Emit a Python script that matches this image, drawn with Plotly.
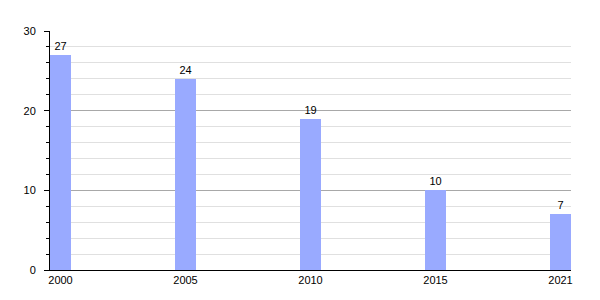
import plotly.graph_objects as go

years = ["2000", "2005", "2010", "2015", "2021"]
values = [27, 24, 19, 10, 7]
positions = list(range(len(years)))

bar_width = 0.168

fig = go.Figure(
    go.Bar(
        x=positions,
        y=values,
        width=bar_width,
        marker=dict(color="#99aaff", line=dict(width=0)),
        text=[str(v) for v in values],
        textposition="outside",
        textfont=dict(color="#000000", size=11, family="Liberation Sans, Arial, sans-serif"),
        cliponaxis=False,
    )
)

fig.update_layout(
    width=600,
    height=300,
    margin=dict(l=50, r=29, t=31, b=30),
    paper_bgcolor="white",
    plot_bgcolor="white",
    showlegend=False,
    font=dict(family="Liberation Sans, Arial, sans-serif", size=11, color="#000000"),
    bargap=0,
)

fig.update_xaxes(
    type="linear",
    range=[-bar_width / 2, positions[-1] + bar_width / 2],
    tickvals=positions,
    ticktext=years,
    showgrid=False,
    zeroline=False,
    showline=True,
    linecolor="#000000",
    linewidth=1,
    ticks="",
    ticklabelstandoff=0,
)

fig.update_yaxes(
    range=[0, 30],
    tickvals=[0, 10, 20, 30],
    showgrid=True,
    gridcolor="#a8a8a8",
    gridwidth=1,
    zeroline=False,
    showline=True,
    linecolor="#000000",
    linewidth=1,
    ticks="outside",
    ticklen=5,
    tickcolor="#000000",
    ticklabelstandoff=6,
    minor=dict(
        dtick=2,
        ticks="outside",
        ticklen=3,
        tickcolor="#000000",
        showgrid=True,
        gridcolor="#e0e0e0",
        gridwidth=1,
    ),
)

fig.write_html("out.html")
